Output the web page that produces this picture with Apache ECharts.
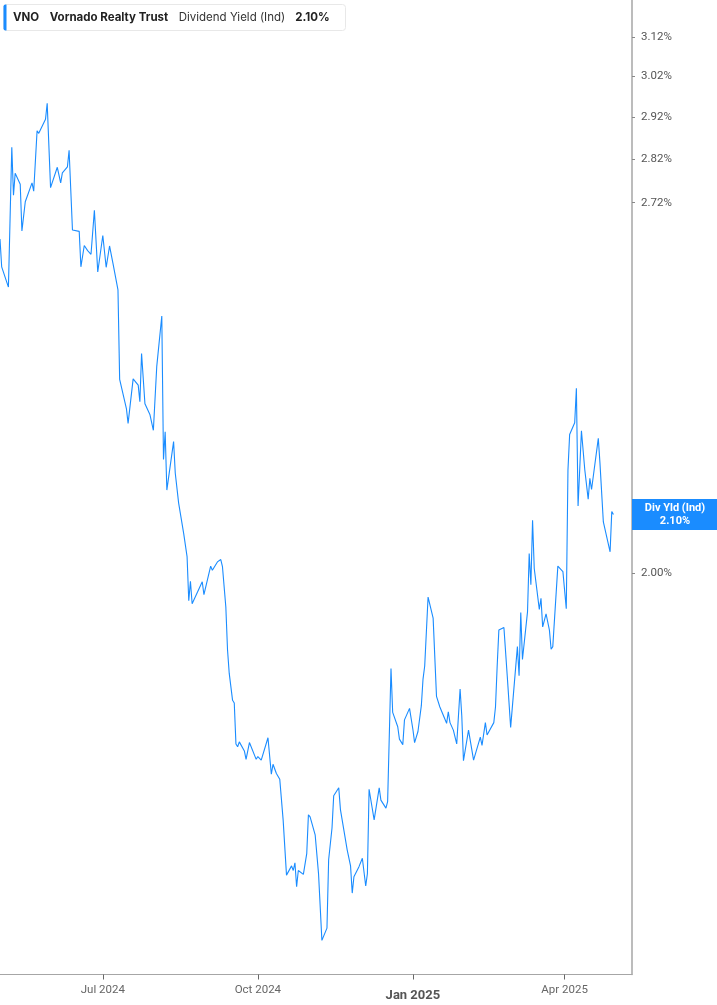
<!DOCTYPE html>
<html>
<head>
<meta charset="utf-8">
<script src="https://cdn.jsdelivr.net/npm/echarts@6/dist/echarts.min.js"></script>
<style>
html,body{margin:0;padding:0;background:#fff;}
#chart{width:717px;height:1005px;}
</style>
</head>
<body>
<div id="chart"></div>
<script>
// ---- data ----
const dates = [
'2024-05-01','2024-05-02','2024-05-06','2024-05-08','2024-05-09','2024-05-10','2024-05-13','2024-05-14','2024-05-15','2024-05-16',
'2024-05-20','2024-05-21','2024-05-23','2024-05-24','2024-05-28','2024-05-29','2024-05-31','2024-06-04','2024-06-05','2024-06-06',
'2024-06-07','2024-06-10','2024-06-11','2024-06-13','2024-06-14','2024-06-17','2024-06-18','2024-06-20','2024-06-22','2024-06-24',
'2024-06-26','2024-06-28','2024-07-01','2024-07-03','2024-07-05','2024-07-07','2024-07-10','2024-07-11','2024-07-15','2024-07-16',
'2024-07-19','2024-07-22','2024-07-23','2024-07-24','2024-07-26','2024-07-29','2024-07-30','2024-07-31','2024-08-02','2024-08-05',
'2024-08-06','2024-08-07','2024-08-08','2024-08-12','2024-08-13','2024-08-15','2024-08-18','2024-08-20','2024-08-21','2024-08-22',
'2024-08-23','2024-08-29','2024-08-30','2024-09-03','2024-09-04','2024-09-07','2024-09-09','2024-09-10','2024-09-12','2024-09-13',
'2024-09-14','2024-09-16','2024-09-17','2024-09-18','2024-09-19','2024-09-20','2024-09-23','2024-09-24','2024-09-26','2024-09-27',
'2024-09-30','2024-10-01','2024-10-03','2024-10-07','2024-10-09','2024-10-10','2024-10-12','2024-10-14','2024-10-16','2024-10-18',
'2024-10-21','2024-10-22','2024-10-23','2024-10-24','2024-10-25','2024-10-28','2024-10-30','2024-10-31','2024-11-01','2024-11-04',
'2024-11-06','2024-11-08','2024-11-11','2024-11-12','2024-11-14','2024-11-15','2024-11-18','2024-11-19','2024-11-20','2024-11-23',
'2024-11-25','2024-11-26','2024-11-27','2024-11-30','2024-12-02','2024-12-03','2024-12-04','2024-12-05','2024-12-06','2024-12-09',
'2024-12-12','2024-12-13','2024-12-16','2024-12-17','2024-12-19','2024-12-20','2024-12-23','2024-12-24','2024-12-26','2024-12-27',
'2024-12-30','2025-01-01','2025-01-02','2025-01-04','2025-01-06','2025-01-07','2025-01-08','2025-01-10','2025-01-13','2025-01-15',
'2025-01-16','2025-01-17','2025-01-21','2025-01-22','2025-01-23','2025-01-25','2025-01-27','2025-01-29','2025-01-30','2025-01-31',
'2025-02-03','2025-02-04','2025-02-06','2025-02-10','2025-02-11','2025-02-13','2025-02-14','2025-02-18','2025-02-19','2025-02-20',
'2025-02-21','2025-02-24','2025-02-26','2025-02-28','2025-03-04','2025-03-05','2025-03-06','2025-03-07','2025-03-10','2025-03-11',
'2025-03-12','2025-03-13','2025-03-14','2025-03-17','2025-03-18','2025-03-19','2025-03-21','2025-03-23','2025-03-24','2025-03-25',
'2025-03-28','2025-03-31','2025-04-02','2025-04-03','2025-04-04','2025-04-07','2025-04-08','2025-04-09','2025-04-11','2025-04-13',
'2025-04-15','2025-04-16','2025-04-17','2025-04-21','2025-04-22','2025-04-24','2025-04-28','2025-04-29','2025-04-30'
];
const yields = [
2.639,2.579,2.536,2.848,2.737,2.787,2.762,2.657,2.656,2.722,
2.765,2.746,2.887,2.881,2.915,2.954,2.754,2.801,2.804,2.765,
2.788,2.802,2.841,2.659,2.655,2.656,2.579,2.625,2.614,2.606,
2.703,2.568,2.647,2.578,2.624,2.587,2.530,2.349,2.293,2.265,
2.350,2.338,2.306,2.400,2.302,2.281,2.284,2.252,2.374,2.476,
2.198,2.249,2.143,2.231,2.173,2.120,2.067,2.028,1.955,1.987,
1.950,1.986,1.965,2.012,2.005,2.019,2.023,2.011,1.945,1.877,
1.841,1.800,1.796,1.736,1.732,1.739,1.726,1.714,1.738,1.737,
1.714,1.718,1.713,1.745,1.693,1.707,1.694,1.686,1.630,1.557,
1.569,1.563,1.573,1.542,1.563,1.558,1.585,1.637,1.634,1.610,
1.559,1.475,1.490,1.577,1.619,1.663,1.674,1.644,1.646,1.590,
1.569,1.534,1.555,1.568,1.579,1.577,1.543,1.559,1.672,1.630,
1.674,1.657,1.646,1.655,1.848,1.782,1.761,1.743,1.735,1.771,
1.788,1.757,1.738,1.754,1.792,1.832,1.852,1.961,1.927,1.806,
1.805,1.790,1.766,1.783,1.767,1.756,1.736,1.817,1.777,1.712,
1.756,1.754,1.713,1.746,1.734,1.767,1.749,1.767,1.790,1.852,
1.908,1.912,1.836,1.760,1.882,1.837,1.936,1.862,1.937,2.033,
1.981,2.090,2.008,1.941,1.959,1.913,1.934,1.908,1.878,1.882,
2.012,2.003,1.942,2.179,2.244,2.266,2.332,2.115,2.251,2.179,
2.127,2.164,2.144,2.237,2.191,2.087,2.036,2.105,2.100
];
const yTicks = [2.00, 2.72, 2.82, 2.92, 3.02, 3.12];
const xTicks = ['2024-07-01','2024-10-01','2025-01-01','2025-04-01'];
const xRange = ['2024-05-01','2025-05-11'];
const yRange = [1.4338, 3.218];
const ticker = 'VNO', company = 'Vornado Realty Trust', metric = 'Dividend Yield (Ind)', tagName = 'Div Yld (Ind)';

// ---- chart ----
const BLUE = '#1a8cff';
const parseT = s => +echarts.time.parse(s);
const lastVal = yields[yields.length - 1];
const seriesData = dates.map((d, i) => [parseT(d), yields[i]]);
const MON = ['Jan','Feb','Mar','Apr','May','Jun','Jul','Aug','Sep','Oct','Nov','Dec'];

const chart = echarts.init(document.getElementById('chart'), null, {renderer: 'canvas'});
chart.setOption({
  animation: false,
  backgroundColor: '#fff',
  grid: {left: 0, right: 85, top: 0, bottom: 30.5, containLabel: false},
  xAxis: {
    type: 'value',
    min: parseT(xRange[0]),
    max: parseT(xRange[1]),
    splitLine: {show: false},
    axisLine: {show: true, lineStyle: {color: '#a6a6a6', width: 1}},
    axisTick: {show: true, length: 5, lineStyle: {color: '#666'}, customValues: xTicks.map(parseT)},
    axisLabel: {
      customValues: xTicks.map(parseT),
      margin: 10,
      fontFamily: 'Roboto',
      fontSize: 11.5,
      color: '#666',
      formatter: function (v) {
        const d = new Date(v);
        const m = d.getMonth();
        const s = MON[m] + ' ' + d.getFullYear();
        return m === 0 ? '{b|' + s + '}' : s;
      },
      rich: {b: {fontFamily: 'Roboto', fontSize: 13, fontWeight: 'bold', color: '#555', padding: [5, 0, 0, 0]}}
    }
  },
  yAxis: {
    type: 'log',
    logBase: 10,
    position: 'right',
    min: yRange[0],
    max: yRange[1],
    splitLine: {show: false},
    axisLine: {show: true, lineStyle: {color: '#a6a6a6', width: 1.5}},
    axisTick: {show: true, inside: false, length: 3, lineStyle: {color: '#888'}, customValues: yTicks},
    axisLabel: {
      customValues: yTicks,
      margin: 9,
      fontFamily: 'Roboto',
      fontSize: 11.5,
      color: '#555',
      formatter: v => Number(v).toFixed(2) + '%'
    }
  },
  series: [{
    type: 'line',
    data: seriesData,
    showSymbol: false,
    symbol: 'none',
    lineStyle: {color: BLUE, width: 1.1},
    markLine: {
      silent: true,
      symbol: 'none',
      lineStyle: {color: 'rgba(0,0,0,0)', width: 0},
      data: [{yAxis: lastVal}],
      label: {
        show: true,
        position: 'end',
        distance: 43,
        formatter: tagName + '\n' + lastVal.toFixed(2) + '%',
        backgroundColor: BLUE,
        color: '#fff',
        fontFamily: 'Roboto',
        fontWeight: 'bold',
        fontSize: 11,
        lineHeight: 13,
        width: 78,
        align: 'center',
        padding: [3, 4, 2, 4]
      }
    }
  }],
  graphic: [{
    type: 'group',
    left: 3, top: 4,
    children: [
      {type: 'rect', shape: {x: 0, y: 0, width: 342, height: 26, r: 3}, style: {fill: '#fff', stroke: '#e8e8e8', lineWidth: 1}},
      {type: 'rect', shape: {x: 0, y: 0, width: 3, height: 26, r: [2, 0, 0, 2]}, style: {fill: BLUE}},
      {type: 'text', x: 9.5, y: 13, style: {
        text: '{a|' + ticker + '}{a|' + company + '}{c|' + metric + '}{d|' + lastVal.toFixed(2) + '%}',
        verticalAlign: 'middle',
        rich: {
          a: {fontFamily: 'Inter', fontSize: 11.5, fontWeight: 'bold', fill: '#222', padding: [0, 10.5, 0, 0]},
          c: {fontFamily: 'Inter', fontSize: 11.5, fill: '#333', padding: [0, 10, 0, 0]},
          d: {fontFamily: 'Inter', fontSize: 11.5, fontWeight: 'bold', fill: '#222'}
        }
      }}
    ]
  }]
});
</script>
</body>
</html>
